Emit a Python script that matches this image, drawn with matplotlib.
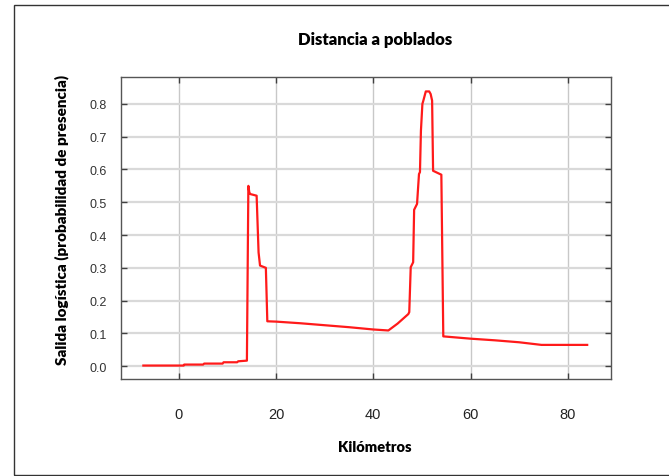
import matplotlib
matplotlib.use("Agg")
import matplotlib.pyplot as plt
from matplotlib.patches import Rectangle


# curva de respuesta
km = [-7.3, 1.0, 1.1, 5.0, 5.2, 9.0, 9.2, 12.0, 12.2, 14.0,
      14.3, 14.5, 14.7, 16.0, 16.4, 16.7, 17.9, 18.2, 20.0, 25.0,
      30.0, 35.0, 40.0, 43.1, 45.0, 47.2, 47.4, 47.7, 48.2, 48.4,
      49.0, 49.4, 49.6, 49.8, 50.1, 50.3, 50.8, 51.5, 51.8, 52.1,
      52.3, 54.0, 54.4, 56.0, 60.0, 65.0, 70.0, 74.6, 84.0]
prob = [0.002, 0.002, 0.005, 0.005, 0.008, 0.008, 0.012, 0.012, 0.015, 0.017,
        0.550, 0.530, 0.525, 0.520, 0.347, 0.307, 0.300, 0.137, 0.136, 0.131,
        0.125, 0.119, 0.112, 0.109, 0.130, 0.159, 0.165, 0.302, 0.317, 0.477,
        0.495, 0.586, 0.592, 0.718, 0.800, 0.810, 0.838, 0.838, 0.830, 0.810,
        0.596, 0.584, 0.091, 0.089, 0.084, 0.079, 0.073, 0.065, 0.065]

x_ticks = [0, 20, 40, 60, 80]
y_ticks = [0.0, 0.1, 0.2, 0.3, 0.4, 0.5, 0.6, 0.7, 0.8]

BOLD = ["Lato", "DejaVu Sans"]
TICK = ["Liberation Sans Narrow", "Liberation Sans", "DejaVu Sans"]


def main():
    fig = plt.figure(figsize=(6.69, 4.77), dpi=100)

    # marco exterior
    fig.patches.append(Rectangle((14 / 669, 1 / 477), 1.0, 470 / 477,
                                 transform=fig.transFigure, fill=False,
                                 edgecolor="#333333", linewidth=1.0))

    ax = fig.add_axes([121 / 669, 97 / 477, 490 / 669, 302 / 477])
    ax.plot(km, prob, color="#ff1a1a", linewidth=1.6, zorder=3)

    ax.set_xlim(-11.9, 88.9)
    ax.set_ylim(-0.039, 0.882)
    ax.set_xticks(x_ticks)
    ax.set_yticks(y_ticks)
    ax.set_yticklabels([f"{v:.1f}" for v in y_ticks], fontfamily=TICK,
                       fontsize=9, color="#333333")
    ax.set_xticklabels([str(v) for v in x_ticks], fontfamily=TICK,
                       fontsize=10.5, color="#222222")

    ax.grid(axis="y", color="#d9d9d9", linewidth=1.6)
    ax.grid(axis="x", color="#c8c8c8", linewidth=1.0)
    ax.set_axisbelow(True)
    for s in ax.spines.values():
        s.set_color("#555555")
        s.set_linewidth(1.0)

    ax.tick_params(axis="both", direction="in", length=4, width=1,
                   color="#404040", top=True, right=True)
    ax.tick_params(axis="y", pad=10)
    ax.tick_params(axis="x", pad=20)

    fig.text(375 / 669, 1 - 40 / 477, "Distancia a poblados", fontfamily=BOLD,
             fontweight="heavy", fontsize=12, ha="center", va="center")
    fig.text(375 / 669, 1 - 448 / 477, "Kilómetros", fontfamily=BOLD,
             fontweight="heavy", fontsize=10.5, ha="center", va="center")
    fig.text(62 / 669, 1 - 220 / 477, "Salida logística (probabilidad de presencia)",
             fontfamily=BOLD, fontweight="heavy", fontsize=11, rotation=90,
             ha="center", va="center")

    fig.savefig("out.png", dpi=100)
    plt.close(fig)


if __name__ == "__main__":
    main()
